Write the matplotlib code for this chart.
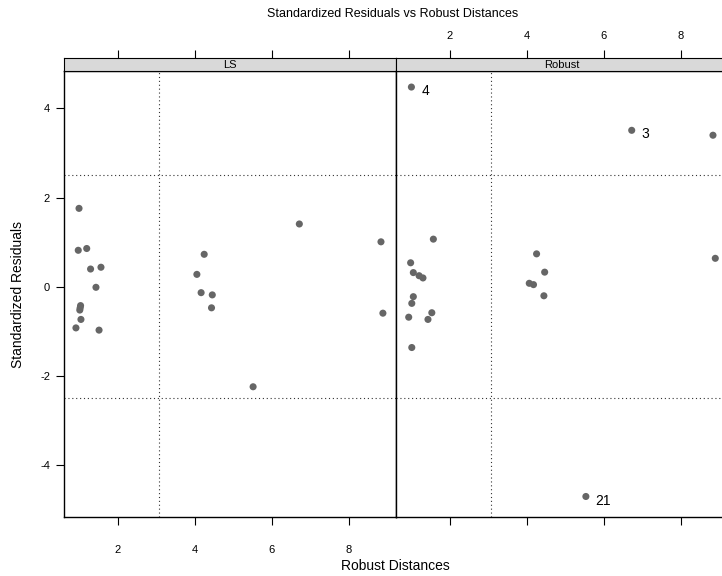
import matplotlib
matplotlib.use("Agg")
import matplotlib.pyplot as plt

plt.rcParams['font.family'] = ['Liberation Sans', 'DejaVu Sans']
plt.rcParams['axes.unicode_minus'] = False

# data
panels = ["LS", "Robust"]

rd_ls = [0.99, 0.97, 1.19, 1.29, 1.56, 1.43, 1.03, 1.01, 1.02, 1.04, 0.91, 1.51,
         4.24, 4.05, 4.16, 4.45, 4.43, 6.71, 8.83, 8.88, 5.51]
res_ls = [1.76, 0.82, 0.86, 0.40, 0.44, -0.01, -0.42, -0.52, -0.47, -0.73, -0.92, -0.97,
          0.73, 0.28, -0.13, -0.18, -0.47, 1.41, 1.01, -0.59, -2.24]

rd_rob = [1.00, 6.72, 8.83, 1.57, 0.98, 1.05, 1.20, 1.30, 4.25, 4.46, 4.06,
          4.17, 4.44, 8.89, 1.05, 1.01, 0.93, 1.53, 1.43, 1.01, 5.53]
res_rob = [4.48, 3.51, 3.40, 1.07, 0.54, 0.32, 0.25, 0.20, 0.74, 0.33, 0.08,
           0.05, -0.20, 0.64, -0.22, -0.37, -0.68, -0.58, -0.73, -1.36, -4.70]
rob_labels = {0: "4", 1: "3", 20: "21"}

xticks = [2, 4, 6, 8]
yticks = [-4, -2, 0, 2, 4]
xlim = (0.6, 9.22)
ylim = (-5.16, 4.84)
cut_x = 3.06
cut_y = 2.5

W, H = 722, 576
fig = plt.figure(figsize=(W / 100, H / 100), dpi=100)

def fx(px):
    return px / W

def fy(py):
    return 1 - py / H

pt_col = "#666666"
pw = 332
for i, name in enumerate(panels):
    x0 = 64 + i * pw
    ax = fig.add_axes([fx(x0), fy(517), pw / W, (517 - 71) / H])
    st = fig.add_axes([fx(x0), fy(71), pw / W, 13 / H])

    if i == 0:
        xs, ys = rd_ls, res_ls
    else:
        xs, ys = rd_rob, res_rob
    ax.scatter(xs, ys, s=26, color=pt_col, edgecolors="none", zorder=3)
    if i == 1:
        for k, lab in rob_labels.items():
            ax.annotate(lab, (xs[k], ys[k]), xytext=(7, -3), textcoords="offset points",
                        fontsize=10, va="center", ha="left")

    ax.axvline(cut_x, color="#333333", lw=0.8, ls=(0, (1, 2.5)))
    for h in (-cut_y, cut_y):
        ax.axhline(h, color="#333333", lw=0.8, ls=(0, (1, 2.5)))

    ax.set_xlim(xlim)
    ax.set_ylim(ylim)
    for sp in ax.spines.values():
        sp.set_linewidth(1.0)
    ax.set_xticks(xticks)
    ax.tick_params(axis="both", direction="out", length=6, width=0.8,
                   labelsize=8, pad=14)
    if i == 0:
        ax.set_yticks(yticks)
        ax.tick_params(axis="y", pad=4)
    else:
        ax.set_yticks([])
        ax.set_xticklabels([])

    # strip with top ticks
    st.set_xlim(xlim)
    st.set_facecolor("#d9d9d9")
    st.set_yticks([])
    st.set_xticks(xticks)
    st.xaxis.tick_top()
    st.tick_params(axis="x", direction="out", length=6, width=0.8, labelsize=8, pad=6)
    if i == 0:
        st.set_xticklabels([])
    for sp in st.spines.values():
        sp.set_linewidth(0.8)
    st.text(0.5, 0.45, name, transform=st.transAxes, ha="center", va="center", fontsize=8)

fig.text(fx(393), fy(14), "Standardized Residuals vs Robust Distances",
         ha="center", va="center", fontsize=9)
fig.text(fx(395), fy(566), "Robust Distances", ha="center", va="center", fontsize=10)
fig.text(fx(18), fy(294), "Standardized Residuals", ha="center", va="center",
         rotation=90, fontsize=10)

fig.savefig("out.png", dpi=100)
